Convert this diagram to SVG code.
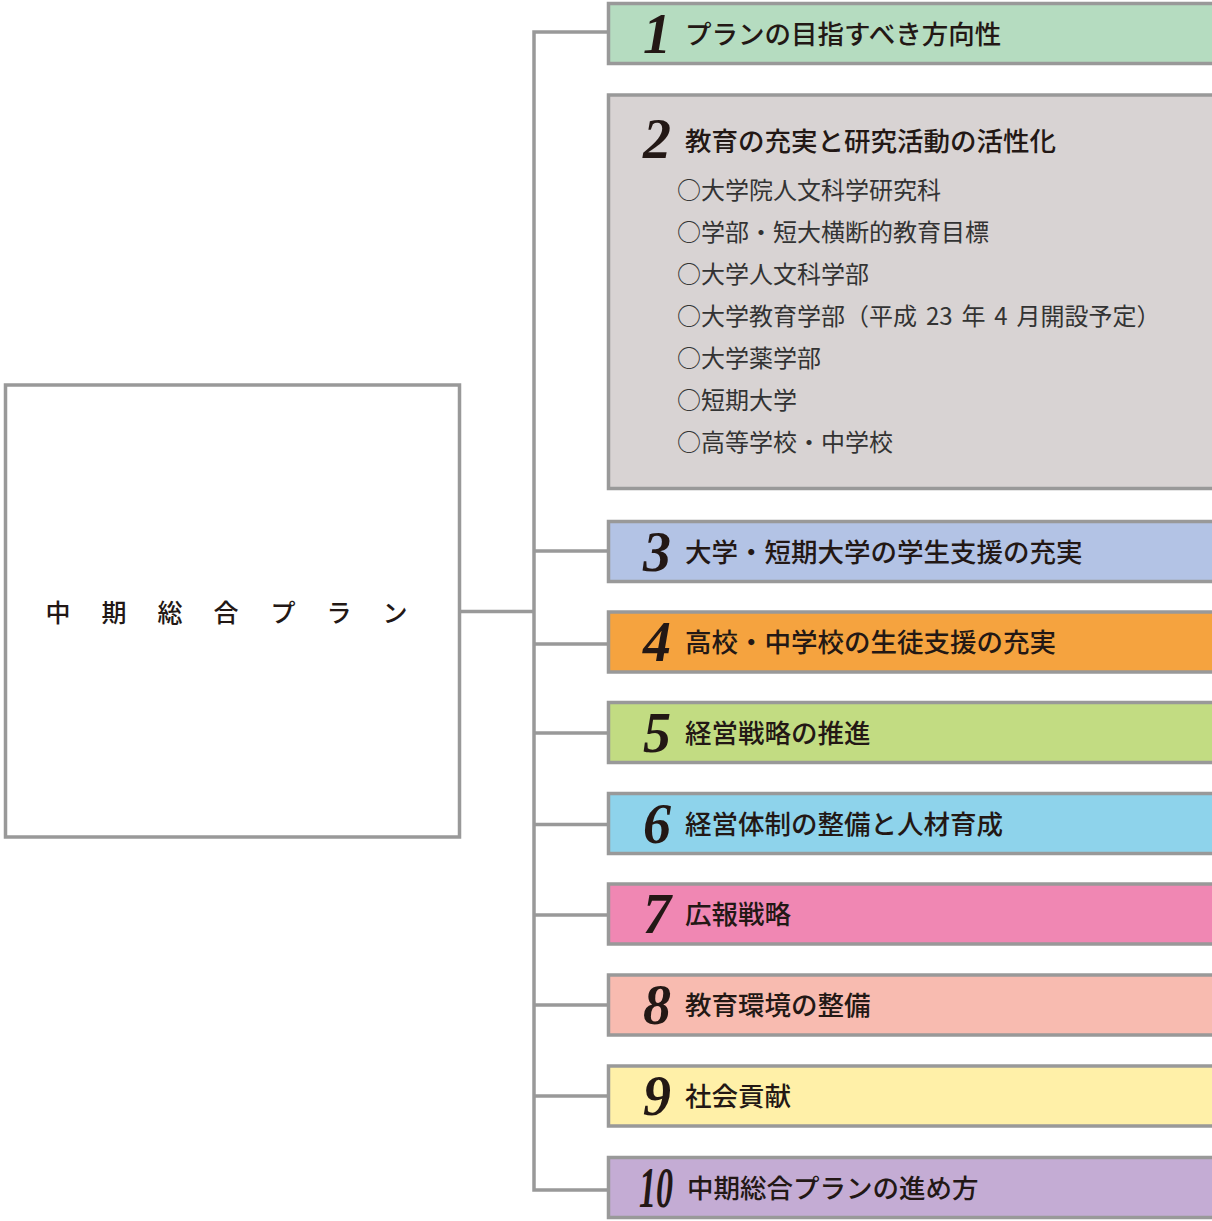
<svg xmlns="http://www.w3.org/2000/svg" width="1212" height="1221" viewBox="0 0 1212 1221">
<style>
.box{stroke:#999999;stroke-width:3.5}
.num{font-family:"Liberation Serif",serif;font-style:italic;font-weight:700;font-size:56px;fill:#231815;text-anchor:middle}
.ttl{font-family:"Noto Sans CJK JP","Noto Sans",sans-serif;font-weight:500;font-size:26.5px;fill:#231815}
.sub{font-family:"Noto Sans CJK JP","Noto Sans",sans-serif;font-weight:400;font-size:24px;fill:#333333}
.main{font-family:"Noto Sans CJK JP","Noto Sans",sans-serif;font-weight:500;font-size:25px;fill:#231815;text-anchor:middle}
.conn{stroke:#999999;stroke-width:3.5;fill:none}
</style>
<rect width="1212" height="1221" fill="#ffffff"/>
<g id="connectors">
<polyline class="conn" points="608,32 534,32 534,1190 608,1190"/>
<line class="conn" x1="460" y1="611.5" x2="534" y2="611.5"/>
<line class="conn" x1="534" y1="551" x2="608" y2="551"/>
<line class="conn" x1="534" y1="644" x2="608" y2="644"/>
<line class="conn" x1="534" y1="733" x2="608" y2="733"/>
<line class="conn" x1="534" y1="824.5" x2="608" y2="824.5"/>
<line class="conn" x1="534" y1="915" x2="608" y2="915"/>
<line class="conn" x1="534" y1="1005" x2="608" y2="1005"/>
<line class="conn" x1="534" y1="1096" x2="608" y2="1096"/>
</g>
<g id="node-main">
<rect class="box" x="5.5" y="385" width="454" height="452" fill="#ffffff"/>
<text class="main" x="58 114 170 226 283 339 395" y="621.5">中期総合プラン</text>
</g>
<g id="node-1">
<rect class="box" x="608.5" y="3.5" width="610" height="60" fill="#b5dcc0"/>
<text class="num" x="657" y="52.5">1</text>
<text class="ttl" x="685" y="43.5">プランの目指すべき方向性</text>
</g>
<g id="node-2">
<rect class="box" x="608.5" y="95" width="610" height="393.5" fill="#d8d3d3"/>
<text class="num" x="657" y="157.5">2</text>
<text class="ttl" x="685" y="151">教育の充実と研究活動の活性化</text>
<text class="sub" x="677" y="199">○大学院人文科学研究科</text>
<text class="sub" x="677" y="241">○学部・短大横断的教育目標</text>
<text class="sub" x="677" y="283">○大学人文科学部</text>
<text class="sub" x="677" y="325" style="word-spacing:3.5px">○大学教育学部（平成 23 年 4 月開設予定）</text>
<text class="sub" x="677" y="367">○大学薬学部</text>
<text class="sub" x="677" y="409">○短期大学</text>
<text class="sub" x="677" y="451">○高等学校・中学校</text>
</g>
<g id="node-3">
<rect class="box" x="608.5" y="521.5" width="610" height="60" fill="#b3c3e5"/>
<text class="num" x="657" y="570.5">3</text>
<text class="ttl" x="685" y="561.5">大学・短期大学の学生支援の充実</text>
</g>
<g id="node-4">
<rect class="box" x="608.5" y="612" width="610" height="60" fill="#f5a33f"/>
<text class="num" x="657" y="661">4</text>
<text class="ttl" x="685" y="652">高校・中学校の生徒支援の充実</text>
</g>
<g id="node-5">
<rect class="box" x="608.5" y="702.5" width="610" height="60" fill="#c2dc82"/>
<text class="num" x="657" y="751.5">5</text>
<text class="ttl" x="685" y="742.5">経営戦略の推進</text>
</g>
<g id="node-6">
<rect class="box" x="608.5" y="793.5" width="610" height="60" fill="#8ed3eb"/>
<text class="num" x="657" y="842.5">6</text>
<text class="ttl" x="685" y="833.5">経営体制の整備と人材育成</text>
</g>
<g id="node-7">
<rect class="box" x="608.5" y="884" width="610" height="60" fill="#f087b3"/>
<text class="num" x="657" y="933">7</text>
<text class="ttl" x="685" y="924">広報戦略</text>
</g>
<g id="node-8">
<rect class="box" x="608.5" y="975" width="610" height="60" fill="#f8bbb0"/>
<text class="num" x="657" y="1024">8</text>
<text class="ttl" x="685" y="1015">教育環境の整備</text>
</g>
<g id="node-9">
<rect class="box" x="608.5" y="1066" width="610" height="60" fill="#fff0a8"/>
<text class="num" x="657" y="1115">9</text>
<text class="ttl" x="685" y="1106">社会貢献</text>
</g>
<g id="node-10">
<rect class="box" x="608.5" y="1157.5" width="610" height="60" fill="#c4acd4"/>
<text class="num" x="656" y="1206.5" textLength="34" lengthAdjust="spacingAndGlyphs">10</text>
<text class="ttl" x="687" y="1197.5">中期総合プランの進め方</text>
</g>
</svg>
